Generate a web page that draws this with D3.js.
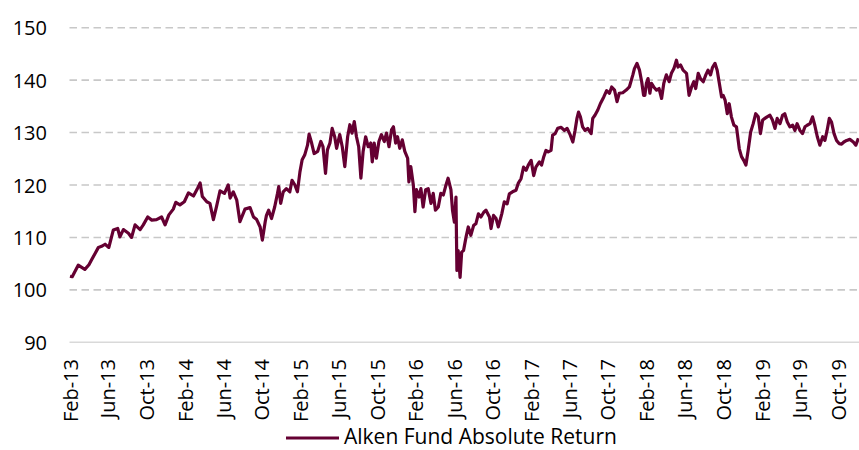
<!DOCTYPE html>
<html>
<head>
<meta charset="utf-8">
<script src="https://cdn.jsdelivr.net/npm/d3@7"></script>
<style>
  html, body { margin: 0; padding: 0; background: #fff; }
  svg { display: block; font-family: "Open Sans", sans-serif; }
</style>
</head>
<body>
<div id="chart"></div>
<script>
// series: Alken Fund Absolute Return
var dates = [
  "2013-02-01","2013-02-08","2013-02-27","2013-03-20","2013-04-02","2013-04-10","2013-04-21","2013-05-02",
  "2013-05-12","2013-05-23","2013-06-04","2013-06-18","2013-07-02","2013-07-09","2013-07-20","2013-08-05",
  "2013-08-15","2013-08-26","2013-09-11","2013-09-21","2013-10-05","2013-10-18","2013-11-02","2013-11-18",
  "2013-11-29","2013-12-11","2013-12-25","2014-01-02","2014-01-15","2014-01-29","2014-02-11","2014-02-27",
  "2014-03-12","2014-03-20","2014-03-27","2014-04-10","2014-04-20","2014-05-01","2014-05-11","2014-05-22",
  "2014-06-05","2014-06-17","2014-06-23","2014-07-03","2014-07-14","2014-07-24","2014-08-09","2014-08-25",
  "2014-09-05","2014-09-15","2014-09-26","2014-10-03","2014-10-12",
  "2014-10-16","2014-10-23","2014-11-01","2014-11-11","2014-11-20","2014-11-24","2014-11-30","2014-12-08",
  "2014-12-18","2014-12-29","2015-01-05","2015-01-14","2015-01-22","2015-01-30","2015-02-06","2015-02-14",
  "2015-02-23","2015-02-28","2015-03-08","2015-03-16","2015-03-27","2015-04-06","2015-04-13","2015-04-21",
  "2015-04-27","2015-05-05","2015-05-12","2015-05-20","2015-05-26","2015-06-05","2015-06-13","2015-06-21",
  "2015-06-30","2015-07-07","2015-07-14","2015-07-21","2015-07-28","2015-08-04","2015-08-11","2015-08-18",
  "2015-08-26","2015-09-03","2015-09-11","2015-09-16","2015-09-22","2015-09-29","2015-10-07","2015-10-15",
  "2015-10-24","2015-10-31","2015-11-08","2015-11-16","2015-11-22","2015-11-29","2015-12-05","2015-12-12",
  "2015-12-20","2015-12-28","2016-01-06","2016-01-10","2016-01-16","2016-01-24","2016-01-29","2016-02-03",
  "2016-02-11","2016-02-17","2016-02-24","2016-03-03","2016-03-11","2016-03-20","2016-03-27","2016-04-03",
  "2016-04-12","2016-04-20","2016-04-28","2016-05-05","2016-05-13","2016-05-22",
  "2016-05-27","2016-06-02","2016-06-07","2016-06-10","2016-06-14","2016-06-20","2016-06-25","2016-07-01",
  "2016-07-09","2016-07-16","2016-07-24","2016-08-02","2016-08-09","2016-08-17","2016-08-25","2016-09-03",
  "2016-09-10","2016-09-21","2016-09-26","2016-10-04","2016-10-12","2016-10-19","2016-10-30","2016-11-07",
  "2016-11-16","2016-11-23","2016-12-03","2016-12-14","2016-12-21","2016-12-30","2017-01-07","2017-01-15",
  "2017-01-22","2017-01-31","2017-02-08","2017-02-15","2017-02-26","2017-03-05","2017-03-12","2017-03-19",
  "2017-03-26","2017-04-04","2017-04-09","2017-04-17","2017-04-25","2017-05-06","2017-05-16","2017-05-25",
  "2017-06-04","2017-06-12","2017-06-19","2017-06-25","2017-06-30","2017-07-06","2017-07-13","2017-07-21",
  "2017-07-29","2017-08-09","2017-08-14","2017-08-21","2017-08-30","2017-09-07","2017-09-18","2017-09-27",
  "2017-10-06","2017-10-13","2017-10-22","2017-10-30","2017-11-06","2017-11-17","2017-11-28","2017-12-08",
  "2017-12-19","2017-12-24","2018-01-01","2018-01-09","2018-01-16","2018-01-22",
  "2018-01-26","2018-01-31","2018-02-05","2018-02-11","2018-02-16","2018-02-23","2018-03-04","2018-03-12",
  "2018-03-20","2018-03-27","2018-04-04","2018-04-13","2018-04-20","2018-04-28","2018-05-06","2018-05-11",
  "2018-05-19","2018-05-27","2018-06-07","2018-06-15","2018-06-23","2018-06-30","2018-07-06","2018-07-14",
  "2018-07-21","2018-07-30","2018-08-07","2018-08-14","2018-08-22","2018-08-28","2018-09-05","2018-09-12",
  "2018-09-18","2018-09-26","2018-10-01","2018-10-07","2018-10-14","2018-10-20","2018-10-27","2018-11-04",
  "2018-11-12","2018-11-21","2018-11-28","2018-12-05","2018-12-12","2018-12-19","2018-12-27","2019-01-04",
  "2019-01-12","2019-01-20","2019-01-27","2019-02-03","2019-02-10","2019-02-17","2019-02-26","2019-03-06",
  "2019-03-14","2019-03-21","2019-03-30","2019-04-07","2019-04-14","2019-04-22","2019-04-30","2019-05-09",
  "2019-05-16","2019-05-23","2019-06-01","2019-06-09","2019-06-17","2019-06-24","2019-07-03","2019-07-11",
  "2019-07-18","2019-07-26","2019-08-03","2019-08-12","2019-08-19","2019-08-26","2019-09-02","2019-09-09",
  "2019-09-17","2019-09-25","2019-10-03","2019-10-11","2019-10-18","2019-10-27","2019-11-06","2019-11-17",
  "2019-11-25","2019-12-03"
];

var values = [
  102.6,102.5,104.7,103.9,104.8,105.7,106.9,108.1,
  108.3,108.7,108.1,111.4,111.7,110.1,111.5,110.8,
  110.0,112.4,111.5,112.4,113.9,113.3,113.4,113.9,
  112.4,114.3,115.4,116.7,116.2,116.8,118.5,117.9,
  119.4,120.4,117.8,116.8,116.5,113.4,115.9,118.9,
  118.4,120.0,117.5,118.7,117.1,113.0,115.4,115.7,
  113.9,113.4,112.0,109.5,113.0,
  114.2,115.2,113.6,115.8,118.4,119.7,116.5,118.7,
  119.3,118.7,120.9,120.0,118.7,122.5,124.8,125.7,
  127.6,129.7,128.0,126.0,126.4,128.3,127.3,122.2,
  126.7,128.0,130.8,129.2,127.0,129.6,127.3,123.5,
  129.2,131.5,129.9,132.1,129.2,127.3,121.3,126.4,
  129.2,127.3,128.0,124.4,128.0,125.1,128.3,129.6,
  128.3,129.9,127.3,130.5,131.1,128.0,129.2,127.0,
  128.6,126.4,125.1,120.6,123.5,120.0,114.9,119.1,
  117.7,119.3,115.8,119.1,119.3,116.5,118.4,115.2,
  115.8,118.4,118.1,119.7,121.3,119.1,
  115.2,112.9,117.7,103.7,107.5,102.4,107.2,107.5,
  110.1,112.0,110.4,112.3,112.6,114.5,113.9,114.8,
  115.2,113.9,111.7,114.2,113.6,112.0,114.5,116.8,
  116.4,118.3,118.7,119.0,120.3,121.2,123.4,122.8,
  123.8,124.7,121.8,123.4,124.4,123.8,125.4,126.6,
  126.3,126.6,129.5,129.8,130.8,131.0,130.4,130.8,
  129.5,128.2,130.4,132.7,133.9,133.0,131.1,130.4,
  130.8,129.8,132.7,133.3,134.3,135.5,136.8,138.0,
  137.5,138.7,138.1,135.9,137.5,137.6,138.1,138.7,
  141.0,142.2,143.2,141.9,139.7,137.1,
  137.1,139.4,140.3,137.5,139.4,138.7,138.1,138.4,
  136.5,139.4,141.0,139.7,141.3,142.2,143.8,142.5,
  142.9,141.9,141.3,137.1,138.7,139.7,138.4,141.3,
  140.3,139.7,141.0,141.9,141.0,142.4,143.2,141.9,
  139.7,136.8,137.1,136.2,133.6,135.5,133.0,131.4,
  131.1,126.9,125.4,124.7,123.8,126.6,130.1,131.7,
  133.6,133.0,129.8,132.4,132.7,133.0,133.3,132.4,
  130.8,132.7,131.7,133.3,133.6,132.0,131.1,131.4,
  130.4,131.7,130.4,129.8,131.1,131.4,131.7,133.0,
  131.4,129.2,127.6,129.2,128.5,130.4,132.7,132.0,
  129.8,128.5,127.9,127.8,128.2,128.5,128.7,128.2,
  127.6,128.9
];

var tickLabels = ["Feb-13","Jun-13","Oct-13","Feb-14","Jun-14","Oct-14","Feb-15","Jun-15","Oct-15",
  "Feb-16","Jun-16","Oct-16","Feb-17","Jun-17","Oct-17","Feb-18","Jun-18","Oct-18",
  "Feb-19","Jun-19","Oct-19"];
var yTicks = [90, 100, 110, 120, 130, 140, 150];
var seriesName = "Alken Fund Absolute Return";

var width = 859, height = 450;
var parseDate = d3.timeParse("%Y-%m-%d");
var parseTick = d3.timeParse("%b-%y");

var data = dates.map(function(d, i) { return { date: parseDate(d), value: values[i] }; });

var svg = d3.select("#chart")
  .append("svg")
  .attr("width", width)
  .attr("height", height);

var x = d3.scaleTime()
  .domain([parseDate("2013-02-01"), parseDate("2019-12-05")])
  .range([70, 859]);

var y = d3.scaleLinear()
  .domain([90, 150])
  .range([342.3, 27.7]);

// gridlines (dashed) and the base line at 90
svg.append("g")
  .selectAll("line")
  .data(yTicks)
  .enter()
  .append("line")
  .attr("x1", 69.5)
  .attr("x2", width)
  .attr("y1", function(d) { return y(d); })
  .attr("y2", function(d) { return y(d); })
  .attr("stroke", function(d) { return d === 90 ? "#d9d9d9" : "#c8c8c8"; })
  .attr("stroke-width", 1.6)
  .attr("stroke-dasharray", function(d) { return d === 90 ? null : "7.5,4.5"; });

// y labels
svg.append("g")
  .selectAll("text")
  .data(yTicks)
  .enter()
  .append("text")
  .attr("x", 47)
  .attr("y", function(d) { return y(d); })
  .attr("text-anchor", "end")
  .attr("dominant-baseline", "central")
  .style("font-size", "20px")
  .style("fill", "#000")
  .text(function(d) { return d; });

// x labels, rotated
svg.append("g")
  .selectAll("text")
  .data(tickLabels)
  .enter()
  .append("text")
  .attr("transform", function(d) { return "translate(" + x(parseTick(d)) + ",359) rotate(-90)"; })
  .attr("text-anchor", "end")
  .attr("dominant-baseline", "central")
  .style("font-size", "20px")
  .style("fill", "#000")
  .text(function(d) { return d; });

// the series
var line = d3.line()
  .x(function(d) { return x(d.date); })
  .y(function(d) { return y(d.value); });

svg.append("path")
  .datum(data)
  .attr("d", line)
  .attr("fill", "none")
  .attr("stroke", "#650032")
  .attr("stroke-width", 3.2)
  .attr("stroke-linejoin", "round");

// legend
var legend = svg.append("g");
legend.append("line")
  .attr("x1", 286).attr("x2", 339)
  .attr("y1", 438).attr("y2", 438)
  .attr("stroke", "#650032")
  .attr("stroke-width", 3);
legend.append("text")
  .attr("x", 344)
  .attr("y", 444)
  .style("font-size", "21px")
  .style("fill", "#000")
  .text(seriesName);
</script>
</body>
</html>
